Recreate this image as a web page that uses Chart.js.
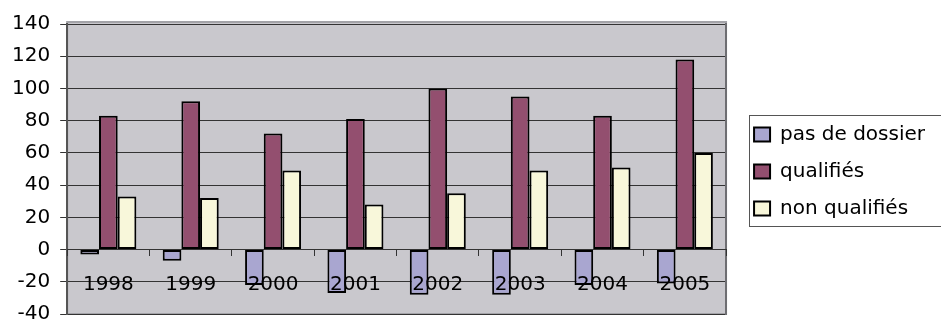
<!DOCTYPE html>
<html>
<head>
<meta charset="utf-8">
<script src="https://cdn.jsdelivr.net/npm/chart.js@4/dist/chart.umd.min.js"></script>
<style>
html, body { margin: 0; padding: 0; background: #ffffff; }
#wrap { width: 941px; height: 320px; position: relative; }
canvas { display: block; }
</style>
</head>
<body>
<div id="wrap"><canvas id="c" width="941" height="320"></canvas></div>
<script>
// ---- data ----
const categories = ['1998', '1999', '2000', '2001', '2002', '2003', '2004', '2005'];
const seriesLabels = ['pas de dossier', 'qualifiés', 'non qualifiés'];
const pasDeDossier = [-3, -7, -22, -27, -28, -28, -22, -21];
const qualifies = [83, 92, 72, 81, 100, 95, 83, 118];
const nonQualifies = [33, 32, 49, 28, 35, 49, 51, 60];
const yMin = -40;
const yMax = 140;
const yStep = 20;

const FONT = 'DejaVu Sans';

const plotFrame = {
  id: 'plotFrame',
  beforeDraw(chart) {
    const { ctx, chartArea: a } = chart;
    ctx.save();
    ctx.fillStyle = '#C9C8CD';
    ctx.fillRect(a.left, a.top - 2, a.right - a.left, a.bottom - a.top + 2);
    ctx.strokeStyle = '#A3A3A8';
    ctx.lineWidth = 2;
    ctx.strokeRect(a.left, a.top - 2, a.right - a.left, a.bottom - a.top + 2);
    ctx.restore();
  },
  afterDraw(chart) {
    const { ctx } = chart;
    const hb = chart.legend.legendHitBoxes;
    if (!hb || !hb.length) return;
    const x = Math.round(hb[0].left - 5) + 0.5;
    const top = Math.round(hb[0].top - 10) + 0.5;
    const last = hb[hb.length - 1];
    const bottom = Math.round(last.top + last.height + 7) + 0.5;
    ctx.save();
    ctx.strokeStyle = '#555555';
    ctx.lineWidth = 1;
    ctx.strokeRect(x, top, chart.width - x + 5, bottom - top);
    ctx.restore();
  }
};

new Chart(document.getElementById('c'), {
  type: 'bar',
  data: {
    labels: categories,
    datasets: [
      { label: seriesLabels[0], data: pasDeDossier, backgroundColor: '#A9A6D0', borderColor: '#000000', borderWidth: 2, borderSkipped: false },
      { label: seriesLabels[1], data: qualifies, backgroundColor: '#934F6F', borderColor: '#000000', borderWidth: 2, borderSkipped: false },
      { label: seriesLabels[2], data: nonQualifies, backgroundColor: '#F8F7DA', borderColor: '#000000', borderWidth: 2, borderSkipped: false }
    ]
  },
  options: {
    responsive: false,
    animation: false,
    devicePixelRatio: 1,
    categoryPercentage: 0.68,
    barPercentage: 1.0,
    layout: { padding: { left: 2, top: 24, right: 6, bottom: 6 } },
    plugins: {
      tooltip: { enabled: false },
      legend: {
        position: 'right',
        align: 'center',
        maxWidth: 320,
        title: { display: true, text: '', font: { size: 1 }, padding: 2 },
        labels: {
          font: { family: FONT, size: 20 },
          color: '#000000',
          boxWidth: 16,
          boxHeight: 14,
          padding: 17
        }
      }
    },
    scales: {
      x: {
        type: 'category',
        position: { y: 0 },
        offset: true,
        grid: { offset: true, drawOnChartArea: false, drawTicks: true, tickLength: 6, color: '#333333', lineWidth: 1, z: 1 },
        border: { display: true, color: '#333333', width: 1, z: 1 },
        ticks: { z: 2, font: { family: FONT, size: 20 }, color: '#000000', padding: 17, maxRotation: 0, autoSkip: false }
      },
      y: {
        min: yMin,
        max: yMax,
        position: 'left',
        ticks: { stepSize: yStep, font: { family: FONT, size: 20 }, color: '#000000', padding: 10 },
        grid: { color: '#333333', lineWidth: 1, tickLength: 7, drawTicks: true },
        border: { display: true, color: '#555555', width: 2 },
        afterFit(scale) { scale.paddingTop = 0; scale.paddingBottom = 0; }
      },
      y2: {
        position: 'right',
        display: true,
        min: yMin,
        max: yMax,
        ticks: { display: false },
        grid: { display: false, drawTicks: false },
        border: { display: true, color: '#6E6E72', width: 2 },
        afterFit(scale) { scale.width = 11; scale.paddingTop = 0; scale.paddingBottom = 0; }
      }
    }
  },
  plugins: [plotFrame]
});
</script>
</body>
</html>
